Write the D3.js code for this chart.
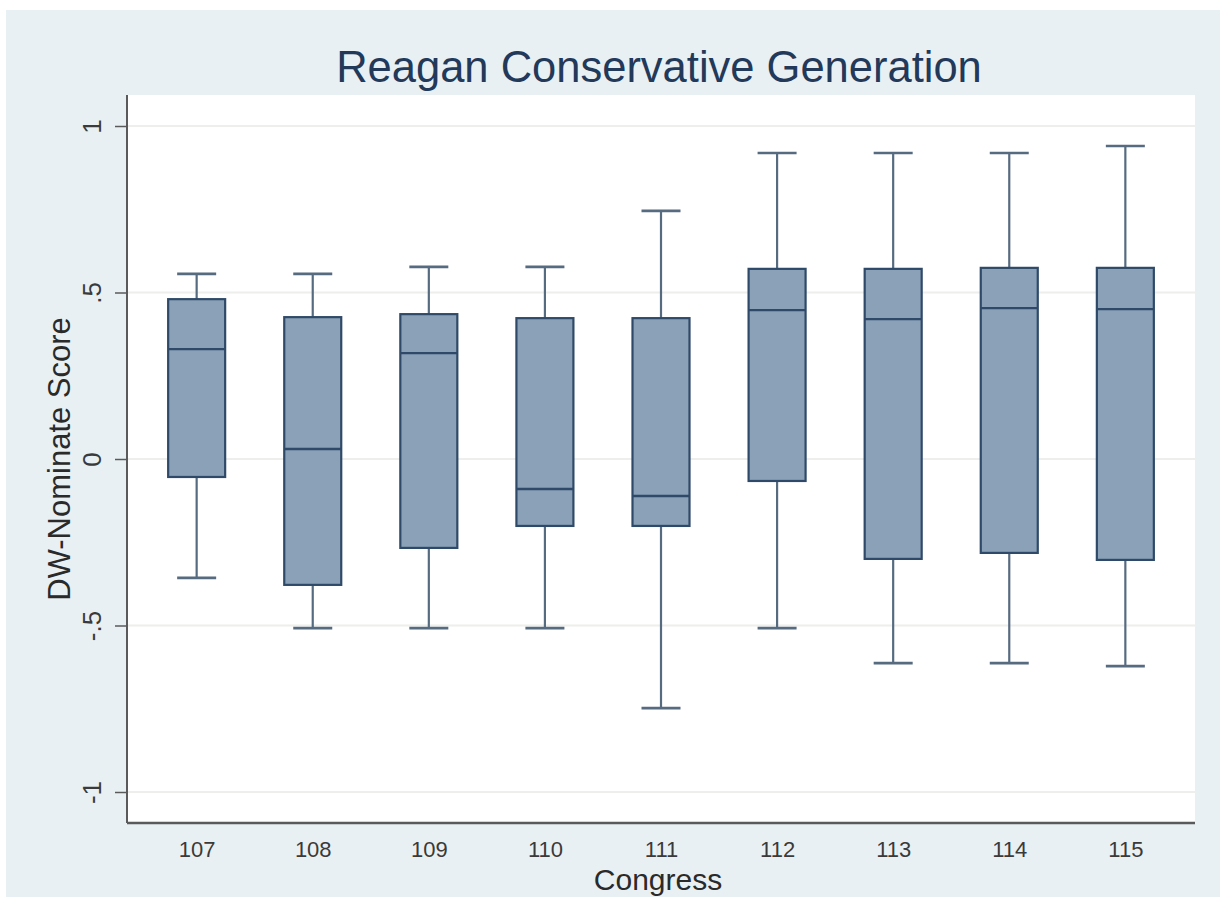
<!DOCTYPE html>
<html>
<head>
<meta charset="utf-8">
<script src="https://cdn.jsdelivr.net/npm/d3@7"></script>
<style>
  html, body { margin: 0; padding: 0; background: #ffffff; }
  svg { display: block; }
</style>
</head>
<body>
<svg id="chart" width="1225" height="899"></svg>
<script>
// Congress sessions and box-plot summaries of DW-Nominate scores
const congresses = ["107", "108", "109", "110", "111", "112", "113", "114", "115"];
const upperAdjacent = [0.556, 0.556, 0.577, 0.577, 0.745, 0.919, 0.919, 0.919, 0.940];
const upperQuartile = [0.480, 0.426, 0.435, 0.423, 0.423, 0.571, 0.571, 0.574, 0.574];
const medians       = [0.330, 0.030, 0.318, -0.090, -0.111, 0.447, 0.420, 0.453, 0.450];
const lowerQuartile = [-0.054, -0.378, -0.267, -0.201, -0.201, -0.066, -0.300, -0.282, -0.303];
const lowerAdjacent = [-0.357, -0.508, -0.508, -0.508, -0.748, -0.508, -0.613, -0.613, -0.622];
const yTicks = [-1, -0.5, 0, 0.5, 1];
const yTickLabels = ["-1", "-.5", "0", ".5", "1"];

const svg = d3.select("#chart");
const W = 1225, H = 899;
const FONT = "'Liberation Sans', Arial, sans-serif";

// Outer graph region
svg.append("rect").attr("x", 0).attr("y", 0).attr("width", W).attr("height", H).attr("fill", "#ffffff");
svg.append("rect").attr("x", 6).attr("y", 10).attr("width", 1214).attr("height", 887).attr("fill", "#e9f0f3");

const plot = { left: 127, top: 95, right: 1195, bottom: 823 };

// Plot region
svg.append("rect")
  .attr("x", plot.left).attr("y", plot.top)
  .attr("width", plot.right - plot.left).attr("height", plot.bottom - plot.top)
  .attr("fill", "#ffffff");

const y = d3.scaleLinear().domain([-1, 1]).range([792, 126]);
const x = d3.scalePoint().domain(congresses).range([plot.left, plot.right]).padding(0.6);

// Gridlines
svg.append("g").selectAll("line").data(yTicks).join("line")
  .attr("x1", plot.left).attr("x2", plot.right)
  .attr("y1", d => y(d)).attr("y2", d => y(d))
  .attr("stroke", "#eeeeec").attr("stroke-width", 2);

const rows = congresses.map((c, i) => ({
  c, hi: upperAdjacent[i], q3: upperQuartile[i], med: medians[i], q1: lowerQuartile[i], lo: lowerAdjacent[i]
}));

const boxW = 57, capW = 39;
const whiskerColor = "#566b80";
const boxStroke = "#2f4a68";
const boxFill = "#8aa1b7";

const g = svg.append("g");
const box = g.selectAll("g.box").data(rows).join("g").attr("class", "box");

// Whiskers
box.append("line")
  .attr("x1", d => x(d.c)).attr("x2", d => x(d.c))
  .attr("y1", d => y(d.hi)).attr("y2", d => y(d.q3))
  .attr("stroke", whiskerColor).attr("stroke-width", 2.2);
box.append("line")
  .attr("x1", d => x(d.c)).attr("x2", d => x(d.c))
  .attr("y1", d => y(d.q1)).attr("y2", d => y(d.lo))
  .attr("stroke", whiskerColor).attr("stroke-width", 2.2);
// Caps
box.append("line")
  .attr("x1", d => x(d.c) - capW / 2).attr("x2", d => x(d.c) + capW / 2)
  .attr("y1", d => y(d.hi)).attr("y2", d => y(d.hi))
  .attr("stroke", whiskerColor).attr("stroke-width", 2.6);
box.append("line")
  .attr("x1", d => x(d.c) - capW / 2).attr("x2", d => x(d.c) + capW / 2)
  .attr("y1", d => y(d.lo)).attr("y2", d => y(d.lo))
  .attr("stroke", whiskerColor).attr("stroke-width", 2.6);
// Interquartile box
box.append("rect")
  .attr("x", d => x(d.c) - boxW / 2).attr("width", boxW)
  .attr("y", d => y(d.q3)).attr("height", d => y(d.q1) - y(d.q3))
  .attr("fill", boxFill).attr("stroke", boxStroke).attr("stroke-width", 2.2);
// Median
box.append("line")
  .attr("x1", d => x(d.c) - boxW / 2).attr("x2", d => x(d.c) + boxW / 2)
  .attr("y1", d => y(d.med)).attr("y2", d => y(d.med))
  .attr("stroke", boxStroke).attr("stroke-width", 2.4);

// Y axis
const yAxis = d3.axisLeft(y).tickValues(yTicks).tickSize(12).tickFormat((d, i) => yTickLabels[i]);
const ya = svg.append("g").attr("transform", `translate(${plot.left},0)`).call(yAxis);
ya.attr("font-size", null).attr("font-family", null);
ya.select(".domain").attr("d", `M0,${plot.top}V${plot.bottom}`).attr("stroke", "#5a5a5a").attr("stroke-width", 2);
ya.selectAll(".tick line").attr("stroke", "#5a5a5a").attr("stroke-width", 1.5);
ya.selectAll(".tick text")
  .attr("x", null).attr("dy", null)
  .attr("transform", "translate(-35,0) rotate(-90)")
  .attr("text-anchor", "middle")
  .attr("dominant-baseline", "central")
  .attr("fill", "#3a3a3a")
  .attr("font-family", FONT)
  .attr("font-size", 26);

// X axis
const xAxis = d3.axisBottom(x).tickSize(0).tickPadding(18);
const xa = svg.append("g").attr("transform", `translate(0,${plot.bottom})`).call(xAxis);
xa.attr("font-size", null).attr("font-family", null);
xa.select(".domain").attr("d", `M${plot.left},0H${plot.right}`).attr("stroke", "#5a5a5a").attr("stroke-width", 2.4);
xa.selectAll(".tick text")
  .attr("fill", "#3a3a3a")
  .attr("font-family", FONT)
  .attr("font-size", 22);

// Axis titles
svg.append("text")
  .attr("x", 658).attr("y", 890)
  .attr("text-anchor", "middle")
  .attr("fill", "#2a2a2a")
  .attr("font-family", FONT)
  .attr("font-size", 30)
  .text("Congress");

svg.append("text")
  .attr("transform", `translate(70,${y(0)}) rotate(-90)`)
  .attr("text-anchor", "middle")
  .attr("fill", "#2a2a2a")
  .attr("font-family", FONT)
  .attr("font-size", 31)
  .text("DW-Nominate Score");

// Title
svg.append("text")
  .attr("x", 659).attr("y", 82)
  .attr("text-anchor", "middle")
  .attr("fill", "#22395a")
  .attr("font-family", FONT)
  .attr("font-size", 43.5)
  .text("Reagan Conservative Generation");
</script>
</body>
</html>
